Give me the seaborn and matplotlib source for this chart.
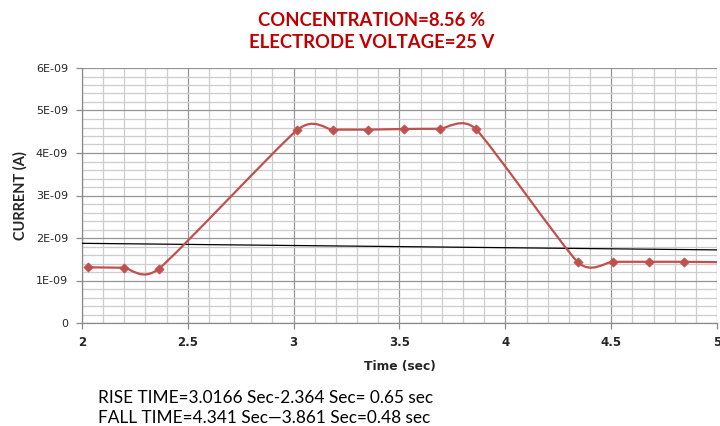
import numpy as np
import pandas as pd
import seaborn as sns
import matplotlib.pyplot as plt
from matplotlib.path import Path
from matplotlib.patches import PathPatch
from matplotlib.ticker import MultipleLocator, FuncFormatter

# 測定データ (sec, A)
time_sec = [2.03, 2.198, 2.364, 3.0166, 3.184, 3.353, 3.523, 3.690, 3.861,
            4.341, 4.507, 4.680, 4.844, 5.03]
current_a = [1.31e-9, 1.30e-9, 1.28e-9, 4.54e-9, 4.55e-9, 4.55e-9, 4.565e-9,
             4.57e-9, 4.56e-9, 1.44e-9, 1.44e-9, 1.44e-9, 1.44e-9, 1.43e-9]

# 黒い傾向線
trend_x = [2.0, 5.0]
trend_y = [1.875e-9, 1.72e-9]

title_lines = ["CONCENTRATION=8.56 %", "ELECTRODE VOLTAGE=25 V"]
notes = ["RISE TIME=3.0166 Sec-2.364 Sec= 0.65 sec",
         "FALL TIME=4.341 Sec\u20143.861 Sec=0.48 sec"]

RED = "#C0504D"


def smooth_path(xs, ys, k=0.1):
    # Excel風の平滑線 (3次ベジェ)
    pts = np.column_stack([xs, ys])
    n = len(pts)
    verts = [pts[0]]
    codes = [Path.MOVETO]
    for i in range(n - 1):
        p0 = pts[max(i - 1, 0)]
        p1 = pts[i]
        p2 = pts[i + 1]
        p3 = pts[min(i + 2, n - 1)]
        c1 = p1 + k * (p2 - p0)
        c2 = p2 - k * (p3 - p1)
        verts += [c1, c2, p2]
        codes += [Path.CURVE4] * 3
    return Path(verts, codes)


def main():
    df = pd.DataFrame({"t": time_sec, "i": current_a})
    trend_df = pd.DataFrame({"t": trend_x, "i": trend_y})

    sns.set_theme(style="white")
    plt.rcParams["font.family"] = ["Lato", "DejaVu Sans"]

    fig = plt.figure(figsize=(7.2, 4.26), dpi=100)
    ax = fig.add_axes([82 / 720, 1 - 323 / 426, 635 / 720, 255 / 426])

    ax.set_xlim(2, 5)
    ax.set_ylim(0, 6e-9)
    ax.xaxis.set_major_locator(MultipleLocator(0.5))
    ax.xaxis.set_minor_locator(MultipleLocator(0.1))
    ax.yaxis.set_major_locator(MultipleLocator(1e-9))
    ax.yaxis.set_minor_locator(MultipleLocator(0.2e-9))
    ax.grid(which="minor", color="#cdcdcd", linewidth=0.9)
    ax.grid(which="major", color="#959595", linewidth=0.9)
    ax.set_axisbelow(True)

    sns.lineplot(data=trend_df, x="t", y="i", ax=ax, color="black",
                 linewidth=0.9, zorder=3)

    patch = PathPatch(smooth_path(df["t"].to_numpy(), df["i"].to_numpy()),
                      facecolor="none", edgecolor=RED, linewidth=1.6, zorder=4)
    ax.add_patch(patch)

    sns.scatterplot(data=df, x="t", y="i", ax=ax, marker="D", s=22,
                    color=RED, edgecolor=RED, linewidth=0.5, zorder=5)

    ax.yaxis.set_major_formatter(
        FuncFormatter(lambda v, p: "0" if abs(v) < 1e-15 else f"{v:.0E}"))
    ax.xaxis.set_major_formatter(FuncFormatter(lambda v, p: f"{v:g}"))

    for s in ["top", "right"]:
        ax.spines[s].set_visible(False)
    for s in ["left", "bottom"]:
        ax.spines[s].set_color("#8a8a8a")
        ax.spines[s].set_linewidth(0.9)

    ax.tick_params(axis="both", which="major", direction="out", length=4,
                   width=0.9, color="#8a8a8a", bottom=True, left=True)
    ax.tick_params(axis="y", labelsize=8, pad=6)
    ax.tick_params(axis="x", labelsize=8.5, pad=5)
    for lab in ax.get_yticklabels():
        lab.set_family(["DejaVu Sans"])
    for lab in ax.get_xticklabels():
        lab.set_family(["DejaVu Sans"])
        lab.set_fontweight("bold")

    ax.set_xlabel("Time (sec)", fontsize=8.8, fontweight="bold", labelpad=8,
                  family=["DejaVu Sans"])
    ax.set_ylabel("CURRENT (A)", fontsize=10.5, fontweight="bold", labelpad=6)

    fig.text(372 / 720, 1 - 20 / 426, title_lines[0], ha="center", va="center",
             fontsize=13.3, fontweight="bold", color="#C00000")
    fig.text(372 / 720, 1 - 43 / 426, title_lines[1], ha="center", va="center",
             fontsize=13.3, fontweight="bold", color="#C00000")

    fig.text(98 / 720, 1 - 398 / 426, notes[0], ha="left", va="center",
             fontsize=12.4, color="black")
    fig.text(98 / 720, 1 - 418 / 426, notes[1], ha="left", va="center",
             fontsize=12.4, color="black")

    fig.savefig("out.png", dpi=100)
    plt.close(fig)


if __name__ == "__main__":
    main()
